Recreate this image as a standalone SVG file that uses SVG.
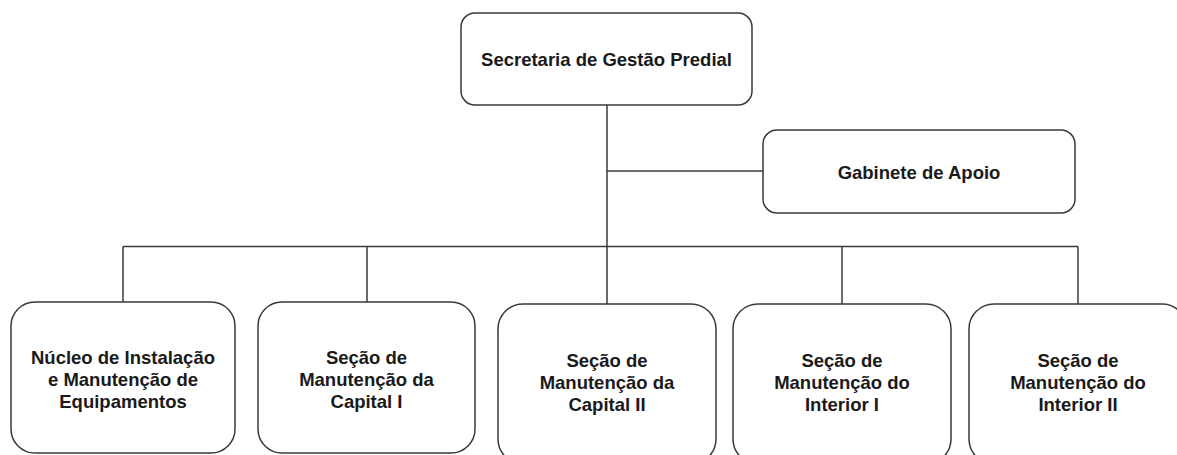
<svg xmlns="http://www.w3.org/2000/svg" width="1177" height="455" viewBox="0 0 1177 455">
<style>
.box{fill:#fff;stroke:#3a3a3a;stroke-width:1.5}
.t{font-family:"Liberation Sans",Arial,sans-serif;font-weight:bold;font-size:18.5px;fill:#1a1a1a;text-anchor:middle}
.c{stroke:#3a3a3a;stroke-width:1.5;fill:none}
</style>
<rect width="1177" height="455" fill="#fff"/>
<g id="connectors">
<path class="c" d="M607,105 V304"/>
<path class="c" d="M607,171 H763"/>
<path class="c" d="M123,246.5 H1078"/>
<path class="c" d="M123,246.5 V302"/>
<path class="c" d="M367,246.5 V302"/>
<path class="c" d="M842,246.5 V304"/>
<path class="c" d="M1078,246.5 V304"/>
</g>
<g id="secretaria">
<rect class="box" x="461" y="13" width="291" height="92" rx="14"/>
<text class="t" x="606.5" y="66">Secretaria de Gestão Predial</text>
</g>
<g id="gabinete">
<rect class="box" x="763" y="130" width="312" height="83" rx="14"/>
<text class="t" x="919" y="179">Gabinete de Apoio</text>
</g>
<g id="nucleo">
<rect class="box" x="11" y="302" width="224" height="151" rx="24"/>
<text class="t" x="123" y="364">Núcleo de Instalação</text>
<text class="t" x="123" y="386">e Manutenção de</text>
<text class="t" x="123" y="408">Equipamentos</text>
</g>
<g id="capital1">
<rect class="box" x="258" y="302" width="217" height="151" rx="24"/>
<text class="t" x="366.5" y="364">Seção de</text>
<text class="t" x="366.5" y="386">Manutenção da</text>
<text class="t" x="366.5" y="408">Capital I</text>
</g>
<g id="capital2">
<rect class="box" x="498" y="304" width="218" height="160" rx="25"/>
<text class="t" x="607" y="367">Seção de</text>
<text class="t" x="607" y="389">Manutenção da</text>
<text class="t" x="607" y="411">Capital II</text>
</g>
<g id="interior1">
<rect class="box" x="733" y="304" width="218" height="160" rx="25"/>
<text class="t" x="842" y="367">Seção de</text>
<text class="t" x="842" y="389">Manutenção do</text>
<text class="t" x="842" y="411">Interior I</text>
</g>
<g id="interior2">
<rect class="box" x="969" y="304" width="218" height="160" rx="25"/>
<text class="t" x="1078" y="367">Seção de</text>
<text class="t" x="1078" y="389">Manutenção do</text>
<text class="t" x="1078" y="411">Interior II</text>
</g>
</svg>
